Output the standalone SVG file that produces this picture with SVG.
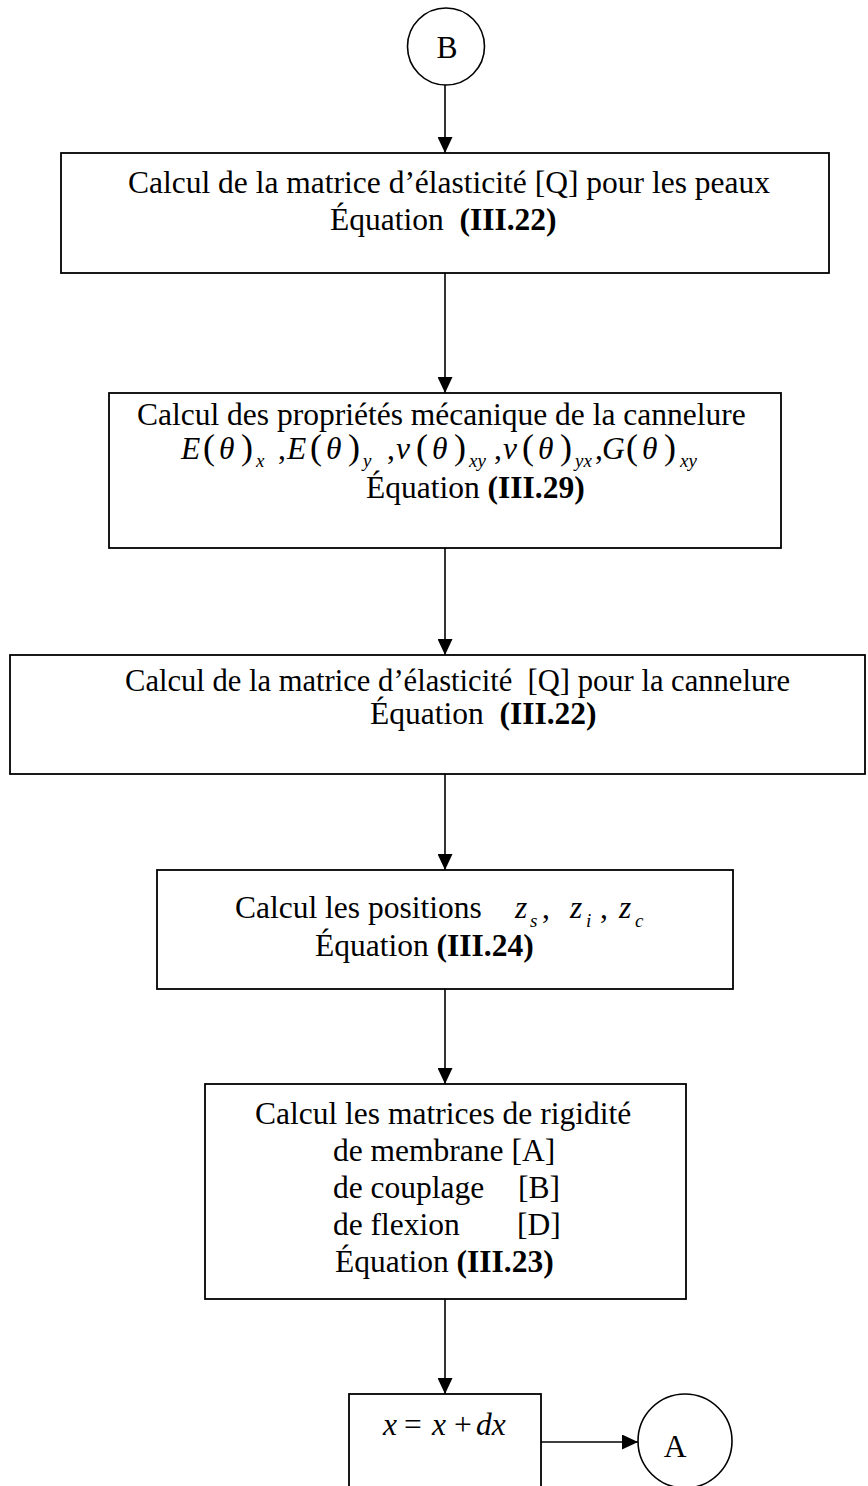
<svg xmlns="http://www.w3.org/2000/svg" width="868" height="1486" viewBox="0 0 868 1486">
  <style>
    .box { fill: #ffffff; stroke: #000000; stroke-width: 1.8; }
    .conn { stroke: #000000; stroke-width: 1.6; fill: none; marker-end: url(#arrow); }
    .t { font-family: "Liberation Serif", "Times New Roman", serif; font-size: 31.5px; fill: #000000; }
    .b { font-weight: bold; }
    .i { font-style: italic; }
    .par { font-size: 36px; }
    .sub { font-size: 19px; font-style: italic; }
  </style>
  <defs>
    <marker id="arrow" markerUnits="userSpaceOnUse" markerWidth="16" markerHeight="15" refX="16" refY="7.5" orient="auto">
      <path d="M0,0 L16,7.5 L0,15 Z" fill="#000000"/>
    </marker>
  </defs>
  <rect x="0" y="0" width="868" height="1486" fill="#ffffff"/>

  <!-- connectors -->
  <g id="connectors">
    <line class="conn" x1="445" y1="85" x2="445" y2="153"/>
    <line class="conn" x1="445" y1="273" x2="445" y2="393"/>
    <line class="conn" x1="445" y1="548" x2="445" y2="655"/>
    <line class="conn" x1="445" y1="774" x2="445" y2="870"/>
    <line class="conn" x1="445" y1="989" x2="445" y2="1084"/>
    <line class="conn" x1="445" y1="1299" x2="445" y2="1394"/>
    <line class="conn" x1="541" y1="1442" x2="638" y2="1442"/>
  </g>

  <!-- connector B -->
  <g id="node-B">
    <circle cx="446" cy="46.5" r="38.5" fill="#ffffff" stroke="#000000" stroke-width="1.6"/>
    <text class="t" x="447" y="58" text-anchor="middle" font-size="32">B</text>
  </g>

  <!-- [Q] for the skins -->
  <g id="node-q-peaux">
    <rect class="box" x="61" y="153" width="768" height="120"/>
    <text class="t" x="128" y="193">Calcul de la matrice d’élasticité [Q] pour les peaux</text>
    <text class="t" x="330" y="230" xml:space="preserve">Équation  <tspan class="b">(III.22)</tspan></text>
  </g>

  <!-- mechanical properties of the flute -->
  <g id="node-proprietes">
    <rect class="box" x="109" y="393" width="672" height="155"/>
    <text class="t" x="137" y="425">Calcul des propriétés mécanique de la cannelure</text>
    <text class="t" y="459">
      <tspan class="i" x="181">E</tspan><tspan class="par" x="203">(</tspan><tspan class="i" x="219">θ</tspan><tspan class="par" x="241">)</tspan><tspan class="sub" x="256" dy="8">x</tspan><tspan x="278" dy="-8">,</tspan>
      <tspan class="i" x="287">E</tspan><tspan class="par" x="310">(</tspan><tspan class="i" x="326">θ</tspan><tspan class="par" x="348">)</tspan><tspan class="sub" x="363" dy="8">y</tspan><tspan x="387" dy="-8">,</tspan>
      <tspan class="i" x="396">ν</tspan><tspan class="par" x="416">(</tspan><tspan class="i" x="432">θ</tspan><tspan class="par" x="454">)</tspan><tspan class="sub" x="469" dy="8">xy</tspan><tspan x="494" dy="-8">,</tspan>
      <tspan class="i" x="503">ν</tspan><tspan class="par" x="522">(</tspan><tspan class="i" x="538">θ</tspan><tspan class="par" x="560">)</tspan><tspan class="sub" x="575" dy="8">yx</tspan><tspan x="595" dy="-8">,</tspan>
      <tspan class="i" x="602">G</tspan><tspan class="par" x="626">(</tspan><tspan class="i" x="642">θ</tspan><tspan class="par" x="664">)</tspan><tspan class="sub" x="680" dy="8">xy</tspan>
    </text>
    <text class="t" x="366" y="498">Équation <tspan class="b">(III.29)</tspan></text>
  </g>

  <!-- [Q] for the flute -->
  <g id="node-q-cannelure">
    <rect class="box" x="10" y="655" width="855" height="119"/>
    <text class="t" x="125" y="691" font-size="32" textLength="665" lengthAdjust="spacingAndGlyphs" xml:space="preserve">Calcul de la matrice d’élasticité  [Q] pour la cannelure</text>
    <text class="t" x="370" y="724" font-size="32" xml:space="preserve">Équation  <tspan class="b">(III.22)</tspan></text>
  </g>

  <!-- positions z -->
  <g id="node-positions">
    <rect class="box" x="157" y="870" width="576" height="119"/>
    <text class="t" y="918">
      <tspan x="235">Calcul les positions</tspan>
      <tspan class="i" x="515">z</tspan><tspan class="sub" x="530" dy="9">s</tspan><tspan x="542" dy="-9">,</tspan>
      <tspan class="i" x="570">z</tspan><tspan class="sub" x="586" dy="9">i</tspan><tspan x="600" dy="-9">,</tspan>
      <tspan class="i" x="619">z</tspan><tspan class="sub" x="635" dy="9">c</tspan>
    </text>
    <text class="t" x="315" y="956">Équation <tspan class="b">(III.24)</tspan></text>
  </g>

  <!-- stiffness matrices -->
  <g id="node-rigidite">
    <rect class="box" x="205" y="1084" width="481" height="215"/>
    <text class="t" x="255" y="1124">Calcul les matrices de rigidité</text>
    <text class="t" x="333" y="1161">de membrane [A]</text>
    <text class="t" y="1198"><tspan x="333">de couplage</tspan><tspan x="518">[B]</tspan></text>
    <text class="t" y="1235"><tspan x="333">de flexion</tspan><tspan x="517">[D]</tspan></text>
    <text class="t" x="335" y="1272">Équation <tspan class="b">(III.23)</tspan></text>
  </g>

  <!-- increment -->
  <g id="node-increment">
    <rect class="box" x="349" y="1394" width="192" height="110"/>
    <text class="t" y="1435" font-size="32">
      <tspan class="i" x="383">x</tspan><tspan x="404">=</tspan><tspan class="i" x="432">x</tspan><tspan x="454">+</tspan><tspan class="i" x="476">dx</tspan>
    </text>
  </g>

  <!-- connector A -->
  <g id="node-A">
    <circle cx="685" cy="1441" r="47" fill="#ffffff" stroke="#000000" stroke-width="1.6"/>
    <text class="t" x="675" y="1457" text-anchor="middle" font-size="32">A</text>
  </g>
</svg>
